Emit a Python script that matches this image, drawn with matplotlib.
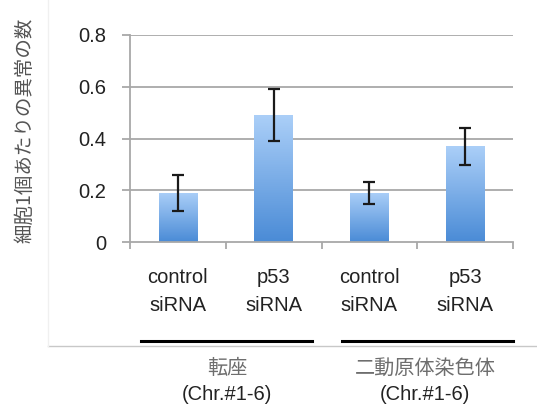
import matplotlib
matplotlib.use("Agg")
import matplotlib.pyplot as plt
import numpy as np
from matplotlib.lines import Line2D
from matplotlib.colors import LinearSegmentedColormap

categories = ["control\nsiRNA", "p53\nsiRNA", "control\nsiRNA", "p53\nsiRNA"]
values = [0.19, 0.49, 0.19, 0.37]
errors = [0.07, 0.10, 0.043, 0.071]
groups = ["転座", "二動原体染色体"]
group_sub = ["(Chr.#1-6)", "(Chr.#1-6)"]
yticks = [0, 0.2, 0.4, 0.6, 0.8]
ytick_labels = ["0", "0.2", "0.4", "0.6", "0.8"]
ylabel = "細胞1個あたりの異常の数"

W, H = 537, 405
fig = plt.figure(figsize=(W / 100, H / 100), dpi=100)
fig.patch.set_facecolor("white")

def fx(x):
    return x / W

def fy(y):
    return 1 - y / H

L, R, T, B = 130, 513, 35, 242
ax = fig.add_axes([fx(L), fy(B), fx(R) - fx(L), fy(T) - fy(B)])
ax.set_xlim(-0.5, 3.5)
ax.set_ylim(0, 0.8)

grid_c = "#a8a8a8"
for v in yticks[1:]:
    ax.axhline(v, color=grid_c, lw=1.3, zorder=1)

for s in ["top", "right"]:
    ax.spines[s].set_visible(False)
for s in ["left", "bottom"]:
    ax.spines[s].set_color(grid_c)
    ax.spines[s].set_linewidth(1.3)

ax.set_yticks(yticks)
ax.set_yticklabels(ytick_labels, fontsize=14.5, family="Liberation Sans", color="#222222")
ax.tick_params(axis="y", direction="out", length=6, color=grid_c, width=1.3, pad=11)

x = np.arange(len(values))
ax.set_xticks(x)
ax.set_xticklabels(categories, fontsize=14.5, family="Liberation Sans", color="#222222", linespacing=1.6)
ax.tick_params(axis="x", which="major", length=0, pad=19)
ax.set_xticks(np.arange(-0.5, 4.0, 1.0), minor=True)
ax.tick_params(axis="x", which="minor", direction="out", length=5, color=grid_c, width=1.3)

cmap = LinearSegmentedColormap.from_list("bar", ["#4a8bd6", "#abcff8"])
grad = np.linspace(0, 1, 256).reshape(-1, 1)
bw = 0.4
bars = ax.bar(x, values, width=bw, color="none", edgecolor="none", zorder=2)
for b in bars:
    x0, y0 = b.get_x(), b.get_y()
    w, h = b.get_width(), b.get_height()
    im = ax.imshow(grad, cmap=cmap, aspect="auto", origin="lower",
                   extent=[x0, x0 + w, y0, y0 + h], zorder=2)
    im.set_clip_path(b)
ax.set_xlim(-0.5, 3.5)
ax.set_ylim(0, 0.8)

ax.errorbar(x, values, yerr=errors, fmt="none", ecolor="#1a1a1a", elinewidth=1.6,
            capsize=4.5, capthick=1.6, zorder=3)

# y label
fig.text(fx(25), fy(130), ylabel, rotation=90, ha="center", va="center",
         fontsize=14, color="#555555", family=["Noto Sans CJK JP", "DejaVu Sans"])

# group lines
fig.add_artist(Line2D([fx(141), fx(312)], [fy(341), fy(341)], color="black", lw=2.2))
fig.add_artist(Line2D([fx(342), fx(513)], [fy(341), fy(341)], color="black", lw=2.2))
# frame lines
fig.add_artist(Line2D([fx(48), fx(537)], [fy(345.5), fy(345.5)], color="#c8c8c8", lw=1.0))
fig.add_artist(Line2D([fx(48), fx(48)], [fy(0), fy(345.5)], color="#f0f0f0", lw=1.0))

gx = [227, 425]
for g, sub, cx in zip(groups, group_sub, gx):
    fig.text(fx(cx), fy(368), g, ha="center", va="center", fontsize=14.5,
             color="#6e6e6e", family=["Noto Sans CJK JP", "DejaVu Sans"])
    fig.text(fx(cx), fy(394), sub, ha="center", va="center", fontsize=14.5,
             color="#222222", family="Liberation Sans")

fig.savefig("out.png", dpi=100, facecolor="white")
